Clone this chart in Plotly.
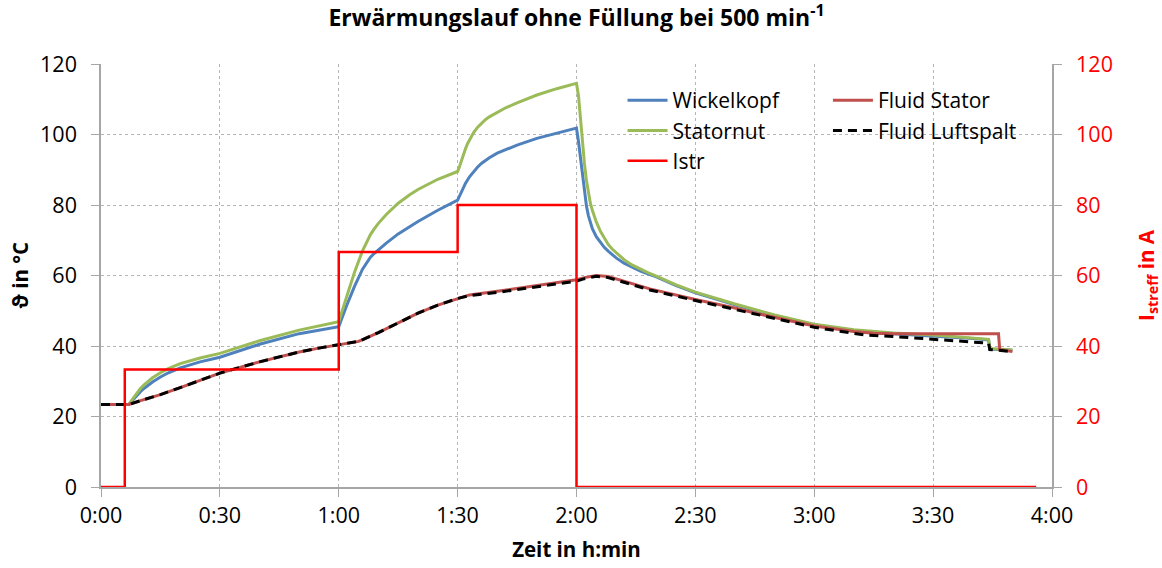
import plotly.graph_objects as go

# ---- data (time in minutes) ----
t_istr = [0, 6, 60, 90, 120, 236]
istr = [0, 33.3, 66.7, 80, 0, 0]

t_wk = [0, 7, 8, 9, 10, 11, 12, 13, 15, 17, 20, 25, 30, 40, 50, 60, 62, 64, 66, 67.4,
        68, 69, 70, 72, 75, 78, 80, 85, 90,
        90.5, 91, 91.5, 92, 93, 94, 95, 96, 98, 100, 102, 105, 110, 115, 120,
        120.5, 121, 121.5, 122, 122.5, 123, 123.5, 124, 125, 126, 127, 128, 130, 132, 134, 136, 138, 140, 145, 150,
        160, 170, 180, 190, 200, 210, 220, 224, 224.3, 230]
wickelkopf = [23.4, 23.4, 24.6, 25.9, 27.1, 28.1, 29.0, 29.8, 31.2, 32.4, 33.8, 35.5, 36.8, 40.5, 43.5, 45.5, 51.5, 57, 61.8, 64.4,
              65.2, 66.3, 67.3, 69.2, 71.8, 74.0, 75.3, 78.5, 81.4,
              82.6, 83.9, 85.1, 86.2, 88.0, 89.5, 90.7, 91.8, 93.4, 94.7, 95.7, 97.0, 98.9, 100.4, 101.8,
              98.0, 93.0, 88.3, 83.5, 79.8, 77.0, 75.0, 73.3, 71.0, 69.4, 68.0, 66.9, 65.0, 63.5, 62.3, 61.3, 60.5, 59.7, 57.2, 55.1,
              51.7, 48.6, 46.0, 44.4, 43.5, 42.9, 42.1, 41.7, 39.1, 38.8]

t_sn = [0, 7, 8, 9, 10, 11, 12, 13, 15, 17, 20, 25, 30, 40, 50, 60, 62, 64, 66, 67.4,
        68, 69, 70, 72, 75, 78, 80, 85, 90,
        90.5, 91, 91.5, 92, 92.5, 93, 94, 95, 96, 97, 98, 100, 102, 105, 110, 115, 120,
        120.5, 121, 121.5, 122, 122.5, 123, 123.5, 124, 124.5, 125, 126, 127, 128, 129, 130, 131, 132, 134, 136, 138, 140, 145, 150,
        160, 170, 180, 190, 200, 210, 220, 224, 224.3, 230]
statornut = [23.4, 23.4, 25.0, 26.6, 28.0, 29.1, 30.1, 31.0, 32.4, 33.6, 35.0, 36.6, 37.9, 41.5, 44.5, 46.9, 54, 61, 67, 70.5,
             71.6, 73.3, 74.8, 77.3, 80.5, 83.0, 84.4, 87.3, 89.5,
             91.0, 92.8, 94.5, 96.0, 97.4, 98.6, 100.5, 102.0, 103.2, 104.2, 105.0, 106.3, 107.5, 109.0, 111.2, 113.0, 114.5,
             111.0, 104.0, 97.5, 91.8, 87.0, 83.0, 80.5, 78.5, 76.7, 75.2, 72.6, 70.5, 68.8, 67.5, 66.4, 65.4, 64.5, 63.0, 61.8, 60.8, 59.9, 57.4, 55.3,
             51.9, 48.8, 46.2, 44.6, 43.7, 43.1, 42.3, 41.9, 39.3, 38.9]

t_fs = [0, 7, 10, 15, 20, 30, 40, 45, 50, 55, 60, 63, 65, 70, 75, 80, 85, 90, 93, 100, 108, 115, 120,
        122, 125, 128, 132, 138.5, 150, 160, 166, 180, 190, 195, 200, 226.5, 226.8, 230]
fluid_stator = [23.4, 23.4, 24.5, 26.2, 28.2, 32.3, 35.5, 37, 38.3, 39.4, 40.3, 40.8, 41.3, 43.8, 46.6, 49.3, 51.6, 53.5, 54.5, 55.5, 56.8, 57.9, 58.8,
                59.4, 60, 59.7, 58.4, 56.2, 53.2, 50.8, 49.1, 45.7, 44.1, 43.6, 43.5, 43.5, 39.0, 38.4]

t_fl = [0, 7, 10, 15, 20, 30, 40, 45, 50, 55, 60, 63, 65, 70, 75, 80, 85, 90, 93, 100, 108, 115, 120,
        122, 125, 128, 132, 138.5, 150, 160, 166, 180, 190, 193, 200, 210, 220, 224, 224.3, 230]
fluid_luftspalt = [23.4, 23.4, 24.5, 26.2, 28.2, 32.3, 35.5, 37, 38.3, 39.4, 40.3, 40.8, 41.3, 43.8, 46.6, 49.3, 51.6, 53.5, 54.3, 55.2, 56.5, 57.6, 58.4,
                   59.1, 59.8, 59.4, 58.0, 55.9, 52.9, 50.4, 48.7, 45.3, 43.6, 43.1, 42.7, 41.9, 41.1, 40.8, 39.0, 38.4]

x_tickvals = [0, 30, 60, 90, 120, 150, 180, 210, 240]
x_ticktext = ["0:00", "0:30", "1:00", "1:30", "2:00", "2:30", "3:00", "3:30", "4:00"]
y_ticks = [0, 20, 40, 60, 80, 100, 120]

FONT = "Open Sans"
TICK = 21.5

fig = go.Figure()
fig.add_trace(go.Scatter(x=t_wk, y=wickelkopf, name="Wickelkopf", mode="lines",
                         line=dict(color="#4F81BD", width=3), legend="legend"))
fig.add_trace(go.Scatter(x=t_sn, y=statornut, name="Statornut", mode="lines",
                         line=dict(color="#9BBB59", width=3), legend="legend"))
fig.add_trace(go.Scatter(x=t_fs, y=fluid_stator, name="Fluid Stator", mode="lines",
                         line=dict(color="#C0504D", width=3), legend="legend2"))
fig.add_trace(go.Scatter(x=t_fl, y=fluid_luftspalt, name="Fluid Luftspalt", mode="lines",
                         line=dict(color="#000000", width=3, dash="9px,6px"), legend="legend2"))
fig.add_trace(go.Scatter(x=t_istr, y=istr, name="Istr", mode="lines", line_shape="hv",
                         line=dict(color="#FF0000", width=2.5), yaxis="y2", legend="legend"))

axis_line = "#A6A6A6"
grid_col = "#B4B4B4"

fig.update_layout(
    width=1162, height=568,
    margin=dict(l=101, r=110, t=64, b=81, autoexpand=False),
    paper_bgcolor="white", plot_bgcolor="white",
    font=dict(family=FONT, size=TICK, color="#000000"),
    title=dict(text="<b>Erwärmungslauf ohne Füllung bei 500 min<sup>-1</sup></b>",
               x=0.5, xref="paper", xanchor="center", y=1 - 18 / 568, yref="container", yanchor="middle",
               font=dict(family=FONT, size=23, color="#000000")),
    xaxis=dict(range=[0, 240], tickvals=x_tickvals, ticktext=x_ticktext, automargin=False,
               showline=True, linecolor=axis_line, linewidth=1.5,
               ticks="outside", ticklen=8, tickcolor=axis_line,
               showgrid=True, gridcolor=grid_col, griddash="3px,3px", gridwidth=1,
               zeroline=False,
               title=dict(text="<b>Zeit in h:min</b>", font=dict(size=20.5), standoff=15),
               tickfont=dict(size=TICK)),
    yaxis=dict(range=[0, 120], tickvals=y_ticks, automargin=False,
               showline=True, linecolor=axis_line, linewidth=1.5,
               ticks="outside", ticklen=8, tickcolor=axis_line, ticklabelstandoff=10,
               showgrid=True, gridcolor=grid_col, griddash="3px,3px", gridwidth=1,
               zeroline=False,
               title=dict(text="<b>ϑ in °C</b>", font=dict(size=20.5), standoff=6),
               tickfont=dict(size=TICK)),
    yaxis2=dict(range=[0, 120], tickvals=y_ticks, overlaying="y", side="right", automargin=False,
                showline=True, linecolor=axis_line, linewidth=1.5,
                ticks="outside", ticklen=8, tickcolor=axis_line, ticklabelstandoff=10,
                showgrid=False, zeroline=False,
                title=dict(text="<b>I<sub>streff</sub> in A</b>", font=dict(size=20.5, color="#FF0000"), standoff=28),
                tickfont=dict(size=TICK, color="#FF0000")),
    legend=dict(x=0.5484, y=0.962, xanchor="left", yanchor="top", xref="paper", yref="paper",
                bgcolor="rgba(0,0,0,0)", font=dict(size=21), orientation="v", itemwidth=40),
    legend2=dict(x=0.7644, y=0.962, xanchor="left", yanchor="top", xref="paper", yref="paper",
                 bgcolor="rgba(0,0,0,0)", font=dict(size=21), orientation="v", itemwidth=40),
    showlegend=True,
)

fig.write_html("out.html")
